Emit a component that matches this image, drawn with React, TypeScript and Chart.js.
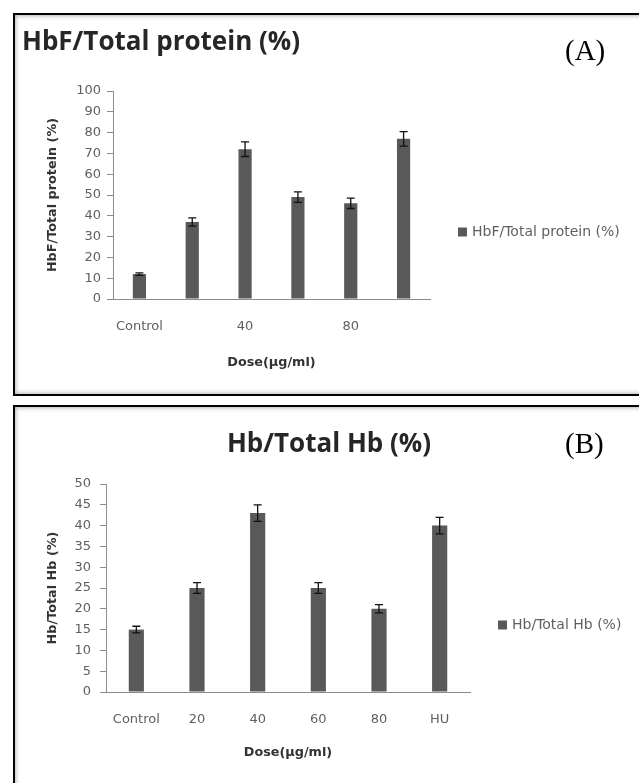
import React, { useEffect, useRef } from "react";
import { Chart, registerables } from "chart.js";

Chart.register(...registerables);

// ---------- data ----------
const categories = ["Control", "20", "40", "60", "80", "HU"];

const hbfLabel = "HbF/Total protein (%)";
const hbfValues = [12, 37, 72, 49, 46, 77];
const hbfErrors = [0.6, 2, 3.5, 2.5, 2.5, 3.5];
const hbfTickMax = 100;
const hbfTickStep = 10;

const hbLabel = "Hb/Total Hb (%)";
const hbValues = [15, 25, 43, 25, 20, 40];
const hbErrors = [0.8, 1.3, 2, 1.3, 1, 2];
const hbTickMax = 50;
const hbTickStep = 5;

const xTitle = "Dose(µg/ml)";

// ---------- styles ----------
const BAR = "#595959";
const AXIS = "#8c8c8c";
const TICK = "#5f5f5f";
const TICK_FONT = { family: "'DejaVu Sans', sans-serif", size: 13 };
const AXIS_TITLE_FONT = { family: "'DejaVu Sans', sans-serif", size: 12.8, weight: "bold" as const };

const errorBarsPlugin = {
  id: "errorBars",
  afterDatasetsDraw(chart: any, _args: any, opts: any) {
    const errs: number[] = opts.errors || [];
    const ds = chart.data.datasets[0];
    const meta = chart.getDatasetMeta(0);
    const y = chart.scales.y;
    const ctx = chart.ctx;
    ctx.save();
    ctx.strokeStyle = "#111";
    ctx.lineWidth = 1.3;
    meta.data.forEach((el: any, i: number) => {
      const v = ds.data[i];
      const e = errs[i] || 0;
      const top = y.getPixelForValue(v + e);
      const bot = y.getPixelForValue(v - e);
      const cap = opts.cap || 4;
      ctx.beginPath();
      ctx.moveTo(el.x, top);
      ctx.lineTo(el.x, bot);
      ctx.moveTo(el.x - cap, top);
      ctx.lineTo(el.x + cap, top);
      ctx.moveTo(el.x - cap, bot);
      ctx.lineTo(el.x + cap, bot);
      ctx.stroke();
    });
    ctx.restore();
  },
};

const panelTextPlugin = {
  id: "panelText",
  afterDraw(chart: any, _args: any, opts: any) {
    const ctx = chart.ctx;
    ctx.save();
    // title
    ctx.fillStyle = "#262626";
    ctx.font = "bold 26px 'Open Sans', sans-serif";
    ctx.textBaseline = "middle";
    ctx.textAlign = opts.titleAlign;
    ctx.fillText(opts.title, opts.titleX, opts.titleY);
    // panel tag
    ctx.fillStyle = "#000";
    ctx.font = "29px 'Liberation Serif', serif";
    ctx.textAlign = "left";
    ctx.fillText(opts.tag, opts.tagX, opts.tagY);
    // legend
    const ds = chart.data.datasets[0];
    ctx.fillStyle = ds.backgroundColor;
    ctx.fillRect(opts.legendX, opts.legendY - 4.5, 9, 9);
    ctx.fillStyle = TICK;
    ctx.font = "14px 'DejaVu Sans', sans-serif";
    ctx.textAlign = "left";
    ctx.fillText(ds.label, opts.legendX + 14, opts.legendY);
    ctx.restore();
  },
};

function makeConfig(p: any) {
  return {
    type: "bar",
    data: {
      labels: categories,
      datasets: [
        {
          label: p.label,
          data: p.values,
          backgroundColor: BAR,
          borderWidth: 0,
          barPercentage: 0.25,
          categoryPercentage: 1,
        },
      ],
    },
    options: {
      responsive: false,
      animation: false,
      devicePixelRatio: 1,
      layout: { padding: p.padding },
      plugins: {
        legend: { display: false },
        title: { display: false },
        tooltip: { enabled: false },
        errorBars: { errors: p.errors, cap: 4 },
        panelText: p.text,
      },
      scales: {
        x: {
          grid: { display: false, drawTicks: false },
          border: { display: true, color: AXIS, width: 1 },
          ticks: {
            color: TICK,
            font: TICK_FONT,
            padding: p.xTickPad,
            autoSkip: false,
            maxRotation: 0,
            callback: (_v: any, i: number) => (p.skipOdd && i % 2 === 1 ? "" : categories[i]),
          },
          title: {
            display: true,
            text: xTitle,
            color: "#333",
            font: AXIS_TITLE_FONT,
            padding: { top: 0, bottom: p.xTitlePad },
          },
          afterFit: (s: any) => {
            s.height = p.xHeight;
          },
        },
        y: {
          min: 0,
          max: p.max,
          grid: { drawOnChartArea: false, drawTicks: true, tickLength: 6, color: AXIS },
          border: { display: true, color: AXIS, width: 1 },
          ticks: { stepSize: p.step, color: TICK, font: TICK_FONT, padding: p.yTickPad },
          title: {
            display: true,
            text: p.label,
            color: "#333",
            font: AXIS_TITLE_FONT,
            padding: { top: 30, bottom: 0 },
          },
          afterFit: (s: any) => {
            s.width = p.yWidth;
          },
        },
      },
    },
    plugins: [errorBarsPlugin, panelTextPlugin],
  };
}

function Panel(props: { left: number; top: number; width: number; height: number; cfg: any }) {
  const ref = useRef<HTMLCanvasElement | null>(null);
  useEffect(() => {
    if (!ref.current) return;
    const chart = new Chart(ref.current, props.cfg);
    return () => chart.destroy();
  }, []);
  return (
    <canvas
      ref={ref}
      width={props.width}
      height={props.height}
      style={{
        position: "absolute",
        left: props.left,
        top: props.top,
        width: props.width,
        height: props.height,
      }}
    />
  );
}

const cfgA = makeConfig({
  label: hbfLabel,
  values: hbfValues,
  errors: hbfErrors,
  max: hbfTickMax,
  step: hbfTickStep,
  padding: { left: 0, top: 76, right: 209, bottom: 16 },
  yWidth: 98,
  xHeight: 80,
  xTickPad: 20,
  xTitlePad: 9,
  yTickPad: 6,
  skipOdd: true,
  text: {
    title: hbfLabel,
    titleAlign: "left",
    titleX: 7,
    titleY: 28,
    tag: "(A)",
    tagX: 550,
    tagY: 37,
    legendX: 443,
    legendY: 217,
  },
});

const cfgB = makeConfig({
  label: hbLabel,
  values: hbValues,
  errors: hbErrors,
  max: hbTickMax,
  step: hbTickStep,
  padding: { left: 0, top: 77, right: 169, bottom: 16 },
  yWidth: 91,
  xHeight: 75,
  xTickPad: 20,
  xTitlePad: 7,
  yTickPad: 9,
  skipOdd: false,
  text: {
    title: hbLabel,
    titleAlign: "center",
    titleX: 314,
    titleY: 38,
    tag: "(B)",
    tagX: 550,
    tagY: 38,
    legendX: 483,
    legendY: 218,
  },
});

const boxStyle = (top: number, height: number): React.CSSProperties => ({
  position: "absolute",
  left: 13,
  top,
  width: 640,
  height,
  boxSizing: "border-box",
  border: "2px solid #000",
  boxShadow: "inset 0 0 4px 1px #b5b5b5",
  background: "#fff",
});

export default function App() {
  return (
    <div
      style={{
        position: "fixed",
        left: 0,
        top: 0,
        width: 639,
        height: 783,
        overflow: "hidden",
        background: "#fff",
      }}
    >
      <div style={boxStyle(13, 383)} />
      <div style={boxStyle(405, 390)} />
      <Panel left={15} top={15} width={624} height={380} cfg={cfgA} />
      <Panel left={15} top={407} width={624} height={376} cfg={cfgB} />
    </div>
  );
}
